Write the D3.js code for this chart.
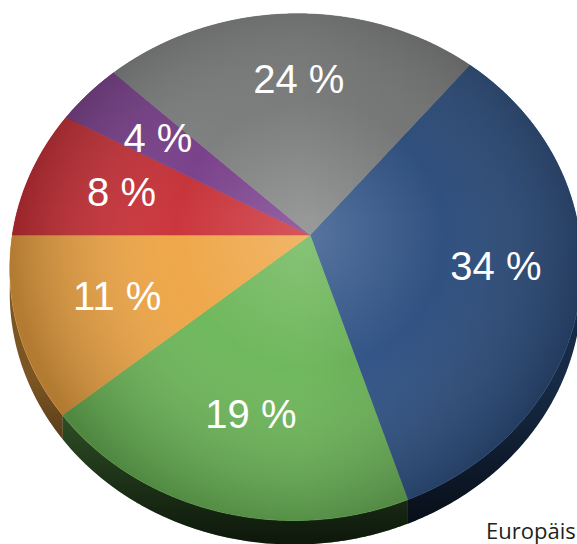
<!DOCTYPE html>
<html>
<head>
<meta charset="utf-8">
<script src="https://cdn.jsdelivr.net/npm/d3@7"></script>
<style>
  html, body { margin: 0; padding: 0; background: #ffffff; overflow: hidden; }
  svg { display: block; }
</style>
</head>
<body>
<svg id="chart" width="577" height="544"></svg>
<script>
// ---- data ----
const categories = ["Blau", "Grün", "Orange", "Rot", "Lila", "Grau"];
const values = [34, 19, 11, 8, 4, 24];
const labels = ["34 %", "19 %", "11 %", "8 %", "4 %", "24 %"];
const colors = ["#2d5288", "#6ab556", "#eea443", "#c92e35", "#7a3d8c", "#808281"];
const footnote = "Europäis";

// ---- layout (tilted disc, simple perspective projection) ----
const W = 577, H = 544;
const cx = 310, cy = 235;      // projected pie centre
const sx = 283, sy = 249;      // radius scale
const g = 0.0494, h = -0.1266; // perspective terms
const thickness = 24;
const labelR = 0.68;
const startDeg = 39.6;

function proj(theta, r) {
  const u = r * Math.sin(theta), v = -r * Math.cos(theta);
  const w = 1 + g * u + h * v;
  return [cx + sx * u / w, cy + sy * v / w];
}

const svg = d3.select("#chart");
const defs = svg.append("defs");

const pie = d3.pie().sort(null).value(d => d)
  .startAngle(startDeg * Math.PI / 180)
  .endAngle(startDeg * Math.PI / 180 + 2 * Math.PI);
const arcs = pie(values);
const line = d3.line();

function rimPoints(a0, a1) {
  const n = Math.max(2, Math.ceil((a1 - a0) / (Math.PI / 360)));
  return d3.range(n + 1).map(i => proj(a0 + (a1 - a0) * i / n, 1));
}

// gradients
const rg = defs.append("radialGradient").attr("id", "shade")
  .attr("gradientUnits", "userSpaceOnUse")
  .attr("cx", cx).attr("cy", cy).attr("r", 300);
rg.append("stop").attr("offset", 0).attr("stop-color", "#fff").attr("stop-opacity", 0.2);
rg.append("stop").attr("offset", 0.45).attr("stop-color", "#fff").attr("stop-opacity", 0.04);
rg.append("stop").attr("offset", 1).attr("stop-color", "#000").attr("stop-opacity", 0.25);

const lg = defs.append("linearGradient").attr("id", "side")
  .attr("gradientUnits", "userSpaceOnUse")
  .attr("x1", 0).attr("y1", 380).attr("x2", 0).attr("y2", 545);
lg.append("stop").attr("offset", 0).attr("stop-color", "#000").attr("stop-opacity", 0.15);
lg.append("stop").attr("offset", 1).attr("stop-color", "#000").attr("stop-opacity", 0.8);

const lr = defs.append("linearGradient").attr("id", "rightdark")
  .attr("gradientUnits", "userSpaceOnUse")
  .attr("x1", 300).attr("y1", 0).attr("x2", 590).attr("y2", 0);
lr.append("stop").attr("offset", 0).attr("stop-color", "#000").attr("stop-opacity", 0);
lr.append("stop").attr("offset", 1).attr("stop-color", "#000").attr("stop-opacity", 0.18);

const lt = defs.append("linearGradient").attr("id", "topdark")
  .attr("gradientUnits", "userSpaceOnUse")
  .attr("x1", 0).attr("y1", 10).attr("x2", 0).attr("y2", 220);
lt.append("stop").attr("offset", 0).attr("stop-color", "#000").attr("stop-opacity", 0.14);
lt.append("stop").attr("offset", 1).attr("stop-color", "#000").attr("stop-opacity", 0);

// ---- sides (extrusion) ----
const sideG = svg.append("g");
arcs.forEach((a, i) => {
  const top = rimPoints(a.startAngle, a.endAngle);
  const bottom = top.map(p => [p[0], p[1] + thickness]).reverse();
  sideG.append("path")
    .attr("d", line(top.concat(bottom)) + "Z")
    .attr("fill", d3.color(colors[i]).darker(1.4));
});
{
  const all = rimPoints(0, 2 * Math.PI);
  const bottom = all.map(p => [p[0], p[1] + thickness]).reverse();
  sideG.append("path").attr("d", line(all.concat(bottom)) + "Z").attr("fill", "url(#side)");
}

// ---- top surface ----
const topG = svg.append("g");
arcs.forEach((a, i) => {
  const pts = [proj(0, 0)].concat(rimPoints(a.startAngle, a.endAngle));
  topG.append("path")
    .attr("d", line(pts) + "Z")
    .attr("fill", colors[i])
    .attr("stroke", colors[i]).attr("stroke-width", 0.6);
});
const disc = line(rimPoints(0, 2 * Math.PI)) + "Z";
topG.append("path").attr("d", disc).attr("fill", "url(#shade)");
topG.append("path").attr("d", disc).attr("fill", "url(#rightdark)");
topG.append("path").attr("d", disc).attr("fill", "url(#topdark)");

// ---- labels ----
svg.append("g").selectAll("text").data(arcs).join("text")
  .attr("x", d => proj((d.startAngle + d.endAngle) / 2, labelR)[0])
  .attr("y", d => proj((d.startAngle + d.endAngle) / 2, labelR)[1] + 14)
  .attr("text-anchor", "middle")
  .attr("font-family", "'Liberation Sans', Arial, sans-serif")
  .attr("font-size", 40)
  .attr("fill", "#ffffff")
  .text((d, i) => labels[i]);

svg.append("text")
  .attr("x", 486).attr("y", 539)
  .attr("font-family", "'Open Sans', 'Noto Sans', sans-serif")
  .attr("font-size", 22)
  .attr("fill", "#231f20")
  .text(footnote);
</script>
</body>
</html>
